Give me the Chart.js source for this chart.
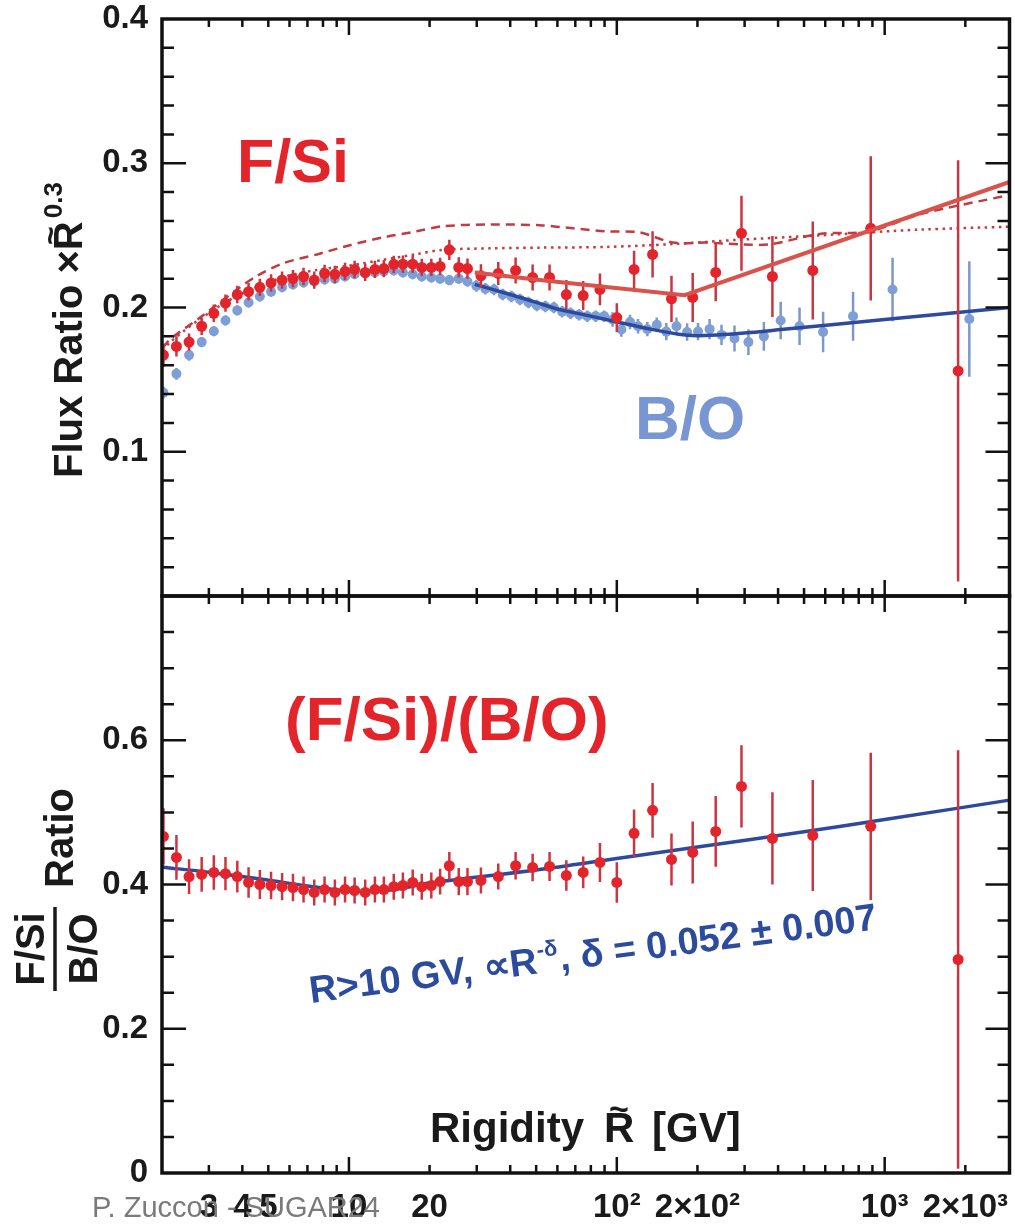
<!DOCTYPE html>
<html>
<head>
<meta charset="utf-8">
<script src="https://cdn.jsdelivr.net/npm/chart.js@4.4.0/dist/chart.umd.min.js"></script>
<style>
  html, body { margin: 0; padding: 0; background: #fff; }
  #wrap { position: relative; width: 1015px; height: 1225px; }
  canvas { position: absolute; left: 0; top: 0; }
</style>
</head>
<body>
<div id="wrap">
  <canvas id="topChart" width="1015" height="1225"></canvas>
  <canvas id="bottomChart" width="1015" height="1225"></canvas>
</div>
<script>
// ---- B/O ratio x R^0.3 (rigidity bin centres, GV)
const boR = [2.03, 2.27, 2.53, 2.82, 3.13, 3.46, 3.83, 4.22, 4.65, 5.12,
  5.63, 6.18, 6.77, 7.42, 8.11, 8.86, 9.67, 10.5, 11.5, 12.5,
  13.5, 14.7, 15.9, 17.3, 18.7, 20.3, 21.9, 23.7, 25.7, 27.7,
  29.9, 32.3, 34.8, 37.5, 40.4, 43.5, 46.8, 50.3, 54.1, 58.2,
  62.5, 67.2, 72.3, 77.6, 83.4, 89.7, 96.4, 104, 112, 120,
  130, 141, 153, 167, 183, 201, 222, 246, 275, 310,
  354, 409, 481, 589, 762, 1070, 2070];
const boVal = [0.141, 0.154, 0.167, 0.176, 0.1835, 0.191, 0.198, 0.2035, 0.2076, 0.211,
  0.214, 0.216, 0.2174, 0.218, 0.2194, 0.220, 0.2215, 0.223, 0.2236, 0.2243,
  0.225, 0.2257, 0.2243, 0.223, 0.2215, 0.2208, 0.220, 0.219, 0.220, 0.218,
  0.215, 0.213, 0.2125, 0.209, 0.2076, 0.2056, 0.2035, 0.2014, 0.2007, 0.200,
  0.197, 0.196, 0.195, 0.194, 0.194, 0.194, 0.1917, 0.1847, 0.190, 0.187,
  0.185, 0.188, 0.1833, 0.187, 0.183, 0.1833, 0.185, 0.181, 0.1785, 0.176,
  0.180, 0.191, 0.187, 0.183, 0.194, 0.2125, 0.192];
const boErr = [0.004, 0.004, 0.004, 0.0035, 0.0035, 0.0035, 0.0035, 0.0035, 0.0035, 0.0035,
  0.0035, 0.0035, 0.0035, 0.0035, 0.0035, 0.0035, 0.0035, 0.0035, 0.0035, 0.0035,
  0.0035, 0.0035, 0.0035, 0.0035, 0.0035, 0.0035, 0.0035, 0.0035, 0.0035, 0.0035,
  0.004, 0.004, 0.004, 0.004, 0.004, 0.004, 0.004, 0.004, 0.004, 0.004,
  0.004, 0.004, 0.004, 0.004, 0.004, 0.004, 0.005, 0.005, 0.005, 0.005,
  0.005, 0.005, 0.006, 0.006, 0.006, 0.006, 0.007, 0.007, 0.009, 0.009,
  0.010, 0.013, 0.013, 0.014, 0.017, 0.022, 0.040];

// ---- F/Si ratio x R^0.3 and (F/Si)/(B/O)
const fsiR = [2.03, 2.27, 2.53, 2.82, 3.13, 3.46, 3.83, 4.22, 4.65, 5.12,
  5.63, 6.18, 6.77, 7.42, 8.11, 8.86, 9.67, 10.5, 11.5, 12.5,
  13.5, 14.7, 15.9, 17.3, 18.7, 20.3, 21.9, 23.7, 25.7, 27.7,
  31.1, 36.1, 41.9, 48.5, 56.1, 64.8, 74.9, 86.5, 100, 116,
  136, 160, 192, 234, 292, 381, 539, 887, 1880];
const fsiVal = [0.167, 0.173, 0.176, 0.187, 0.196, 0.203, 0.209, 0.211, 0.214, 0.217,
  0.219, 0.220, 0.2215, 0.219, 0.2236, 0.223, 0.225, 0.2264, 0.2243, 0.2264,
  0.227, 0.2299, 0.230, 0.230, 0.2278, 0.2278, 0.2285, 0.240, 0.2278, 0.227,
  0.222, 0.2236, 0.2257, 0.2208, 0.2208, 0.209, 0.2083, 0.2125, 0.193, 0.2264,
  0.2368, 0.206, 0.207, 0.2243, 0.2514, 0.2215, 0.2257, 0.2549, 0.156];
const fsiErr = [0.008, 0.007, 0.006, 0.006, 0.006, 0.006, 0.006, 0.006, 0.006, 0.006,
  0.006, 0.006, 0.006, 0.006, 0.006, 0.006, 0.006, 0.006, 0.006, 0.006,
  0.006, 0.006, 0.006, 0.006, 0.006, 0.006, 0.006, 0.007, 0.007, 0.007,
  0.008, 0.008, 0.009, 0.009, 0.009, 0.010, 0.010, 0.011, 0.010, 0.013,
  0.016, 0.016, 0.017, 0.020, 0.026, 0.028, 0.034, 0.050, 0.146];
const ratioVal = [0.4667, 0.4375, 0.411, 0.414, 0.4167, 0.415, 0.411, 0.4028, 0.400, 0.3986,
  0.397, 0.3958, 0.393, 0.389, 0.393, 0.389, 0.393, 0.3917, 0.389, 0.393,
  0.393, 0.397, 0.3986, 0.4028, 0.397, 0.3986, 0.404, 0.426, 0.404, 0.404,
  0.4056, 0.411, 0.426, 0.4236, 0.425, 0.4125, 0.4167, 0.4306, 0.4028, 0.471,
  0.5028, 0.4347, 0.4444, 0.4736, 0.536, 0.4639, 0.468, 0.4806, 0.296];
const ratioErr = [0.039, 0.031, 0.024, 0.024, 0.024, 0.023, 0.022, 0.021, 0.020, 0.019,
  0.019, 0.019, 0.018, 0.018, 0.018, 0.018, 0.018, 0.018, 0.018, 0.018,
  0.018, 0.018, 0.018, 0.018, 0.018, 0.018, 0.018, 0.019, 0.019, 0.019,
  0.018, 0.018, 0.019, 0.019, 0.020, 0.021, 0.022, 0.027, 0.028, 0.033,
  0.038, 0.036, 0.043, 0.049, 0.057, 0.064, 0.077, 0.102, 0.290];

// ---- model curves / fits
const fsiDashR = [2.02, 2.15, 2.78, 3.82, 4.54, 5.67, 7.6, 10, 13.4, 17.9, 22.4, 33.6,
  51.6, 68.6, 91.8, 122, 162, 217, 288, 372, 572, 879, 1352, 2924];
const fsiDashVal = [0.172, 0.178, 0.193, 0.2125, 0.222, 0.2306, 0.2368, 0.243, 0.2486, 0.2528, 0.2563, 0.2576,
  0.257, 0.2549, 0.2528, 0.252, 0.245, 0.245, 0.2438, 0.2438, 0.251, 0.2528, 0.2646, 0.278];
const fsiDotR = [2.02, 2.15, 2.78, 3.82, 5.67, 7.6, 10, 13.4, 17.9, 22.4, 33.6, 51.6,
  91.8, 162, 288, 572, 1352, 2924];
const fsiDotVal = [0.170, 0.176, 0.192, 0.208, 0.221, 0.226, 0.229, 0.233, 0.237, 0.240, 0.241, 0.2415,
  0.242, 0.244, 0.247, 0.250, 0.254, 0.256];
const fsiFitR = [29.5, 51.6, 179, 2924];
const fsiFitVal = [0.2243, 0.219, 0.2085, 0.287];
const boFitR = [29.5, 40, 50, 60, 80, 100, 130, 170, 200, 250, 400, 1000, 2924];
const boFitVal = [0.216, 0.209, 0.2035, 0.199, 0.194, 0.190, 0.1855, 0.1815, 0.1805, 0.1812, 0.1845, 0.1917, 0.200];
const ratioFitR = [2.02, 3, 5, 7, 10, 14, 20, 50, 100, 200, 500, 1000, 2924];
const ratioFitVal = [0.424, 0.417, 0.406, 0.398, 0.391, 0.392, 0.402, 0.420, 0.436, 0.452, 0.473, 0.490, 0.517];

// ---- axes
const xMin = 2.005, xMax = 2924;
const xTickValues = [3, 4, 5, 10, 20, 100, 200, 1000, 2000];
const xTickLabels = ['3', '4', '5', '10', '20', '10\u00b2', '2\u00d710\u00b2', '10\u00b3', '2\u00d710\u00b3'];
const topYTicks = [0.1, 0.2, 0.3, 0.4];
const bottomYTicks = [0, 0.2, 0.4, 0.6];

const RED = '#e3242b', RED_BAR = '#cc3440', RED_FIT = '#d9534c', RED_MODEL = '#c23b40';
const BLUE = '#7d9ed6', BLUE_BAR = '#7d98c8', BLUE_FIT = '#2e4a9e';
const FONT = '"Liberation Sans", Arial, Helvetica, sans-serif';

function pts(xs, ys) { return xs.map((x, i) => ({ x: x, y: ys[i] })); }

// minor/major ticks on the log axis: 1..9 x 10^n
const xAxisTicks = [];
[1, 10, 100, 1000].forEach(d => { for (let m = 1; m < 10; m++) xAxisTicks.push({ v: m * d, major: m === 1 }); });

const errorBars = {
  id: 'errorBars',
  beforeDatasetDraw(chart, args) {
    const ds = chart.data.datasets[args.index];
    if (!ds.errors) return;
    const ctx = chart.ctx, a = chart.chartArea, ys = chart.scales.y;
    ctx.save();
    ctx.beginPath();
    ctx.rect(a.left, a.top, a.right - a.left, a.bottom - a.top);
    ctx.clip();
    ctx.strokeStyle = ds.errorColor;
    ctx.lineWidth = ds.errorWidth;
    ctx.beginPath();
    args.meta.data.forEach((p, i) => {
      const v = ds.data[i].y, e = ds.errors[i];
      ctx.moveTo(p.x, ys.getPixelForValue(v - e));
      ctx.lineTo(p.x, ys.getPixelForValue(v + e));
    });
    ctx.stroke();
    ctx.restore();
  }
};

const frame = {
  id: 'frame',
  afterDraw(chart, args, opts) {
    const ctx = chart.ctx, a = chart.chartArea;
    const xs = chart.scales.x, ys = chart.scales.y;
    ctx.save();
    ctx.strokeStyle = '#111';
    ctx.lineWidth = 2.5;
    ctx.beginPath();
    xAxisTicks.forEach(t => {
      const px = xs.getPixelForValue(t.v);
      if (px <= a.left + 2 || px >= a.right - 2) return;
      const len = t.major ? 16 : 8;
      ctx.moveTo(px, a.bottom); ctx.lineTo(px, a.bottom - len);
      ctx.moveTo(px, a.top); ctx.lineTo(px, a.top + len);
    });
    const n = Math.round((ys.max - ys.min) / opts.minor);
    for (let i = 1; i < n; i++) {
      const py = ys.getPixelForValue(ys.min + i * opts.minor);
      const len = (i % opts.every === 0) ? 24 : 12;
      ctx.moveTo(a.left, py); ctx.lineTo(a.left + len, py);
      ctx.moveTo(a.right, py); ctx.lineTo(a.right - len, py);
    }
    ctx.stroke();
    ctx.lineWidth = 3.5;
    ctx.strokeRect(a.left, a.top, a.right - a.left, a.bottom - a.top);
    ctx.restore();
  }
};

function rotText(ctx, s, x, y, ang) {
  ctx.save(); ctx.translate(x, y); ctx.rotate(ang); ctx.fillText(s, 0, 0); ctx.restore();
}

const texts = {
  id: 'texts',
  afterDraw(chart) {
    const ctx = chart.ctx;
    ctx.save();
    ctx.textBaseline = 'alphabetic';
    ctx.textAlign = 'left';

    ctx.fillStyle = RED;
    ctx.font = 'bold 61px ' + FONT;
    ctx.fillText('F/Si', 237, 182);
    ctx.font = 'bold 62px ' + FONT;
    ctx.fillText('(F/Si)/(B/O)', 285, 740);
    ctx.fillStyle = '#7896d2';
    ctx.fillText('B/O', 635, 439);

    // fit annotation, tilted along the line
    ctx.fillStyle = '#2c4b9c';
    ctx.save();
    ctx.translate(311, 1003);
    ctx.rotate(-7.4 * Math.PI / 180);
    ctx.font = 'bold 38px ' + FONT;
    const s1 = 'R>10 GV, \u221dR';
    ctx.fillText(s1, 0, 0);
    let w = ctx.measureText(s1).width;
    ctx.font = 'bold 22px ' + FONT;
    ctx.fillText('-\u03b4', w + 1, -16);
    w += ctx.measureText('-\u03b4').width + 2;
    ctx.font = 'bold 38px ' + FONT;
    ctx.fillText(', \u03b4 = 0.052 \u00b1 0.007', w, 0);
    ctx.restore();

    // x title
    ctx.fillStyle = '#1a1a1a';
    ctx.font = 'bold 42px ' + FONT;
    ctx.fillText('Rigidity', 430, 1142);
    ctx.fillText('R', 604, 1142);
    ctx.fillText('[GV]', 652, 1142);
    ctx.font = 'bold 34px ' + FONT;
    ctx.textAlign = 'center';
    ctx.fillText('~', 619, 1120);
    ctx.textAlign = 'left';

    // top y title
    ctx.save();
    ctx.translate(82, 478);
    ctx.rotate(-Math.PI / 2);
    ctx.font = 'bold 40px ' + FONT;
    const t1 = 'Flux Ratio \u00d7R';
    ctx.fillText(t1, 0, 0);
    const tw = ctx.measureText(t1).width, rw = ctx.measureText('R').width;
    ctx.font = 'bold 32px ' + FONT;
    ctx.textAlign = 'center';
    ctx.fillText('~', tw - rw / 2, -21);
    ctx.textAlign = 'left';
    ctx.font = 'bold 26px ' + FONT;
    ctx.fillText('0.3', tw + 3, -20);
    ctx.restore();

    // bottom y title (fraction + Ratio)
    ctx.font = 'bold 40px ' + FONT;
    rotText(ctx, 'Ratio', 73, 888, -Math.PI / 2);
    ctx.textAlign = 'center';
    rotText(ctx, 'F/Si', 44, 949, -Math.PI / 2);
    rotText(ctx, 'B/O', 97, 949, -Math.PI / 2);
    ctx.strokeStyle = '#1a1a1a';
    ctx.lineWidth = 3.5;
    ctx.beginPath(); ctx.moveTo(55, 991); ctx.lineTo(55, 907); ctx.stroke();
    ctx.textAlign = 'left';

    // credit line
    ctx.fillStyle = '#7a7a7a';
    ctx.font = '29px ' + FONT;
    ctx.fillText('P. Zuccon - SUGAR24', 92, 1217);
    ctx.restore();
  }
};

// tick marks are drawn by the frame plugin; the invisible grid ticks only push the labels out
function yAxis(min, max, ticks) {
  return {
    type: 'linear', min: min, max: max,
    afterFit: s => { s.width = 162; },
    afterBuildTicks: s => { s.ticks = ticks.map(v => ({ value: v })); },
    grid: { display: true, drawOnChartArea: false, drawTicks: true, tickLength: 14, color: 'rgba(0,0,0,0)' },
    border: { display: false },
    ticks: {
      padding: 0, color: '#1a1a1a',
      font: { family: FONT, size: 33, weight: 'bold', lineHeight: 1 },
      callback: v => (v === 0 ? '0' : v.toFixed(1))
    }
  };
}

function xAxis(show) {
  return {
    type: 'logarithmic', min: xMin, max: xMax, display: show,
    afterFit: s => { s.height = show ? 52 : 0; },
    afterBuildTicks: s => { s.ticks = xTickValues.map(v => ({ value: v })); },
    grid: { display: true, drawOnChartArea: false, drawTicks: true, tickLength: 18, color: 'rgba(0,0,0,0)' },
    border: { display: false },
    ticks: {
      autoSkip: false, maxRotation: 0, minRotation: 0, padding: 0, color: '#1a1a1a',
      font: { family: FONT, size: 33, weight: 'bold', lineHeight: 1 },
      callback: (v, i) => xTickLabels[i]
    }
  };
}

// move the plot area onto the wanted pixel box
function pinArea(chart, pad, box) {
  const a = chart.chartArea;
  pad.top += box.top - a.top;
  pad.bottom += a.bottom - box.bottom;
  pad.left += box.left - a.left;
  pad.right += a.right - box.right;
  chart.update();
}

const common = {
  responsive: false, animation: false, devicePixelRatio: 1,
  plugins: { legend: { display: false }, tooltip: { enabled: false } }
};

const topPad = { top: 19, right: 5, bottom: 629, left: 0 };
const topChart = new Chart(document.getElementById('topChart'), {
  type: 'scatter',
  data: {
    datasets: [
      { type: 'line', data: pts(fsiDashR, fsiDashVal), borderColor: RED_MODEL, borderWidth: 2.5,
        borderDash: [9, 6], pointRadius: 0, tension: 0.3, fill: false, order: 5 },
      { type: 'line', data: pts(fsiDotR, fsiDotVal), borderColor: RED_MODEL, borderWidth: 2.5,
        borderDash: [2.5, 4.5], pointRadius: 0, tension: 0.3, fill: false, order: 4 },
      { data: pts(boR, boVal), errors: boErr, errorColor: BLUE_BAR, errorWidth: 2.5,
        backgroundColor: BLUE, borderWidth: 0, pointRadius: 5, order: 3 },
      { type: 'line', data: pts(boFitR, boFitVal), borderColor: BLUE_FIT, borderWidth: 3.5,
        pointRadius: 0, tension: 0.35, fill: false, order: 2 },
      { data: pts(fsiR, fsiVal), errors: fsiErr, errorColor: RED_BAR, errorWidth: 2.5,
        backgroundColor: RED, borderWidth: 0, pointRadius: 5.5, order: 1 },
      { type: 'line', data: pts(fsiFitR, fsiFitVal), borderColor: RED_FIT, borderWidth: 4,
        pointRadius: 0, tension: 0, fill: false, order: 0 }
    ]
  },
  options: Object.assign({}, common, {
    layout: { padding: topPad },
    scales: { x: xAxis(false), y: yAxis(0, 0.4, topYTicks) },
    plugins: Object.assign({}, common.plugins, { frame: { minor: 0.02, every: 5 } })
  }),
  plugins: [errorBars, frame]
});
pinArea(topChart, topPad, { top: 19, bottom: 596, left: 162, right: 1010 });

const bottomPad = { top: 596, right: 5, bottom: 0, left: 0 };
const bottomChart = new Chart(document.getElementById('bottomChart'), {
  type: 'scatter',
  data: {
    datasets: [
      { type: 'line', data: pts(ratioFitR, ratioFitVal), borderColor: BLUE_FIT, borderWidth: 3.5,
        pointRadius: 0, tension: 0.35, fill: false, order: 1 },
      { data: pts(fsiR, ratioVal), errors: ratioErr, errorColor: RED_BAR, errorWidth: 2.5,
        backgroundColor: RED, borderWidth: 0, pointRadius: 5.5, order: 0 }
    ]
  },
  options: Object.assign({}, common, {
    layout: { padding: bottomPad },
    scales: { x: xAxis(true), y: yAxis(0, 0.8, bottomYTicks) },
    plugins: Object.assign({}, common.plugins, { frame: { minor: 0.05, every: 4 } })
  }),
  plugins: [errorBars, frame, texts]
});
pinArea(bottomChart, bottomPad, { top: 596, bottom: 1173, left: 162, right: 1010 });
</script>
</body>
</html>
